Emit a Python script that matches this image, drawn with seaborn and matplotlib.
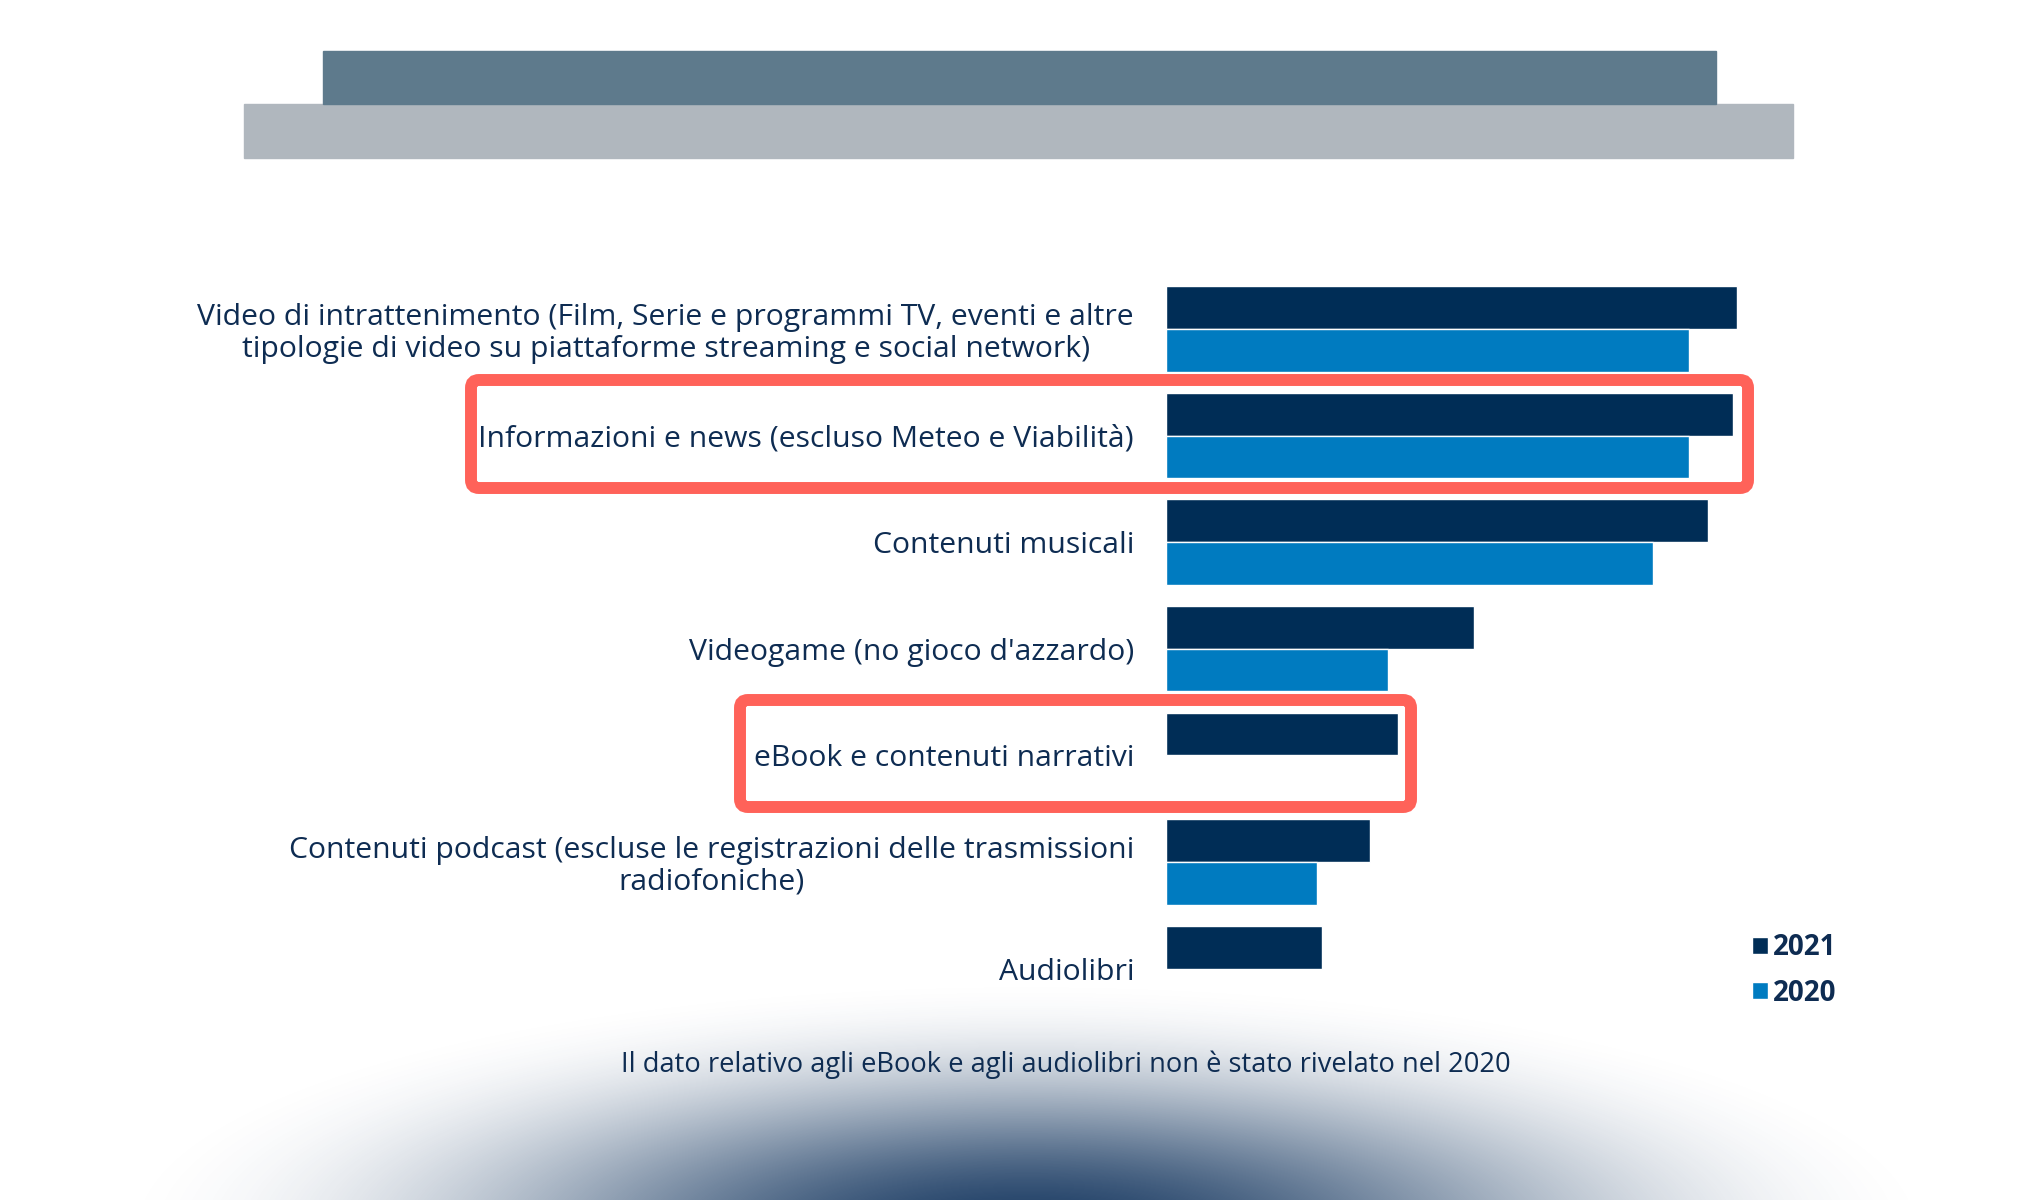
import numpy as np
import pandas as pd
import matplotlib
matplotlib.use("Agg")
import matplotlib.pyplot as plt
import seaborn as sns
from matplotlib.patches import Rectangle, FancyBboxPatch
from matplotlib.colors import to_rgb

# Dati (quote stimate dal grafico)
categorie = [
    "Video di intrattenimento (Film, Serie e programmi TV, eventi e altre\n"
    "tipologie di video su piattaforme streaming e social network)",
    "Informazioni e news (escluso Meteo e Viabilità)",
    "Contenuti musicali",
    "Videogame (no gioco d'azzardo)",
    "eBook e contenuti narrativi",
    "Contenuti podcast (escluse le registrazioni delle trasmissioni\nradiofoniche)",
    "Audiolibri",
]
valori_2021 = [87.8, 87.2, 83.4, 47.4, 35.7, 31.4, 24.0]
valori_2020 = [80.5, 80.5, 74.9, 34.2, np.nan, 23.2, np.nan]
anni = ["2021", "2020"]
nota = "Il dato relativo agli eBook e agli audiolibri non è stato rivelato nel 2020"

colori = {"2021": "#002D56", "2020": "#007BC0"}
testo = "#0E2C52"

df = pd.DataFrame({
    "categoria": categorie * 2,
    "anno": ["2021"] * len(categorie) + ["2020"] * len(categorie),
    "valore": valori_2021 + valori_2020,
})

sns.set_theme(style="white")
plt.rcParams["font.family"] = ["Open Sans", "DejaVu Sans"]

W, H = 2040, 1200
fig = plt.figure(figsize=(W / 100, H / 100), dpi=100)
fig.patch.set_facecolor("white")

# sfumatura in basso
bg = fig.add_axes([0, 0, 1, 1])
yy, xx = np.mgrid[0:H, 0:W]
r = np.sqrt(((xx - 1026) / 950) ** 2 + ((yy - 1230) / 260) ** 2)
s = np.clip(1 - r, 0, 1)
rgba = np.zeros((H, W, 4))
rgba[..., :3] = to_rgb("#1F3F66")
rgba[..., 3] = (3 * s ** 2 - 2 * s ** 3) ** 1.25
bg.imshow(rgba, aspect="auto", interpolation="bilinear")
bg.axis("off")
bg.set_zorder(0)

# fascia del titolo
fig.patches.append(Rectangle((244.5 / W, 1 - 158 / H), 1549 / W, 54 / H,
                             transform=fig.transFigure, color="#B0B7BE", zorder=1))
fig.patches.append(Rectangle((323 / W, 1 - 104 / H), 1393 / W, 53 / H,
                             transform=fig.transFigure, color="#5E7A8C", zorder=1))

ax = fig.add_axes([1166 / W, 0.1485, 650 / W, 0.6218])
ax.set_zorder(2)
ax.patch.set_alpha(0)
sns.barplot(data=df, y="categoria", x="valore", hue="anno", hue_order=anni,
            order=categorie, palette=colori, width=0.8, saturation=1,
            orient="h", ax=ax)
ax.set_xlim(0, 100)
ax.set_ylim(6.5, -0.5)
ax.set_xticks([])
ax.set_xlabel("")
ax.set_ylabel("")
ax.set_yticks(range(len(categorie)))
ax.set_yticklabels(categorie, multialignment="center", color=testo, fontsize=21.7,
                   linespacing=1.1)
ax.tick_params(axis="y", length=0, pad=23)
sns.despine(ax=ax, left=True, bottom=True)

leg = ax.legend(loc="upper left", bbox_to_anchor=(1727 / W, 1 - 908 / H),
                bbox_transform=fig.transFigure, frameon=False,
                handlelength=0.56, handleheight=0.56, handletextpad=0.2,
                labelspacing=0.6, prop={"weight": "bold", "size": 20})
for t in leg.get_texts():
    t.set_color(testo)

# riquadri rossi
inch = fig.dpi_scale_trans
for x0, x1, y0, y1 in [(471, 1748, 380, 488), (740, 1411, 700, 807)]:
    fig.patches.append(FancyBboxPatch(
        (x0 / 100, (H - y1) / 100), (x1 - x0) / 100, (y1 - y0) / 100,
        boxstyle="round,pad=0,rounding_size=0.08", transform=inch,
        fill=False, edgecolor="#FF6259", linewidth=8.6, zorder=3))

fig.text(1066 / W, 1 - 1065 / H, nota, ha="center", va="center",
         fontsize=19.6, color=testo)

fig.savefig("out.png", dpi=100)
